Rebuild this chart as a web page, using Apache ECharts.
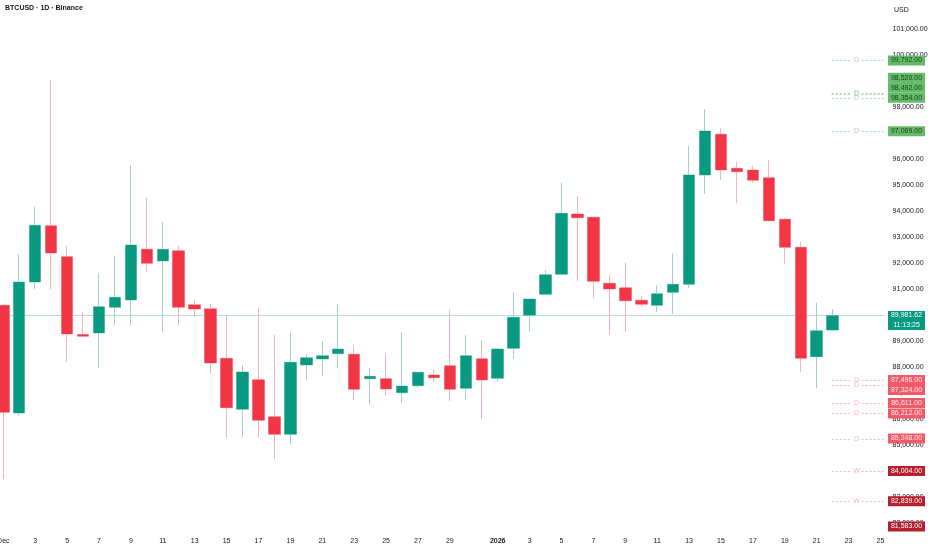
<!DOCTYPE html>
<html>
<head>
<meta charset="utf-8">
<script src="https://cdn.jsdelivr.net/npm/echarts@6/dist/echarts.min.js"></script>
<style>
html,body{margin:0;padding:0;background:#fff;}
#c{width:932px;height:550px;}
</style>
</head>
<body>
<div id="c"></div>
<script>
// ---------- DATA ----------
const categories = [
 '2025-12-01','2025-12-02','2025-12-03','2025-12-04','2025-12-05','2025-12-06','2025-12-07','2025-12-08','2025-12-09','2025-12-10',
 '2025-12-11','2025-12-12','2025-12-13','2025-12-14','2025-12-15','2025-12-16','2025-12-17','2025-12-18','2025-12-19','2025-12-20',
 '2025-12-21','2025-12-22','2025-12-23','2025-12-24','2025-12-25','2025-12-26','2025-12-27','2025-12-28','2025-12-29','2025-12-30',
 '2025-12-31','2026-01-01','2026-01-02','2026-01-03','2026-01-04','2026-01-05','2026-01-06','2026-01-07','2026-01-08','2026-01-09',
 '2026-01-10','2026-01-11','2026-01-12','2026-01-13','2026-01-14','2026-01-15','2026-01-16','2026-01-17','2026-01-18','2026-01-19',
 '2026-01-20','2026-01-21','2026-01-22','2026-01-23','2026-01-24','2026-01-25'
];
const tickLabels = [
 'Dec','','3','','5','','7','','9','','11','','13','','15','','17','','19','','21','','23','','25','','27','','29','','',
 '2026','','3','','5','','7','','9','','11','','13','','15','','17','','19','','21','','23','','25'
];
const opens  = [90373,86231,91269,93435,92242,89250,89308,90296,90577,92527,92077,92473,90396,90242,88335,86373,87512,86088,85412,88077,
 88308,88512,88488,87550,87550,87012,87281,87692,88050,87181,88319,87565,88719,89988,90796,91565,93885,93758,91219,91050,
 90565,90373,90873,91181,95385,96950,95642,95577,95281,93681,92604,88396,89423];
const closes = [86258,91269,93450,92385,89269,89180,90319,90681,92692,91988,92527,90296,90231,88154,86435,87808,85950,85412,88181,88358,
 88435,88692,87142,87642,87154,87269,87796,87588,87142,88435,87500,88692,89912,90615,91550,93912,93742,91296,91000,90550,
 90412,90819,91181,95385,97077,95577,95512,95181,93627,92604,88335,89396,89981.62];
const lows   = [83681,86127,91000,90990,88204,89160,87950,89615,89615,91665,89358,89615,89935,87758,85281,85296,85296,84450,85050,87488,
 87654,87950,86719,86538,86885,86627,87204,87435,86692,86758,85988,87435,88335,89358,90780,91550,91308,90654,89258,89358,
 90319,90127,90038,91027,94654,95192,94296,95088,93600,91973,87819,87181,89400];
const highs  = [90420,92335,94165,99038,92654,90127,91615,92269,95758,94512,93577,92665,90577,90412,90000,88065,90281,89231,89319,88500,
 89000,90396,88808,87950,88500,89335,87830,87912,90192,89231,89038,88720,90885,90650,91731,95088,94577,93770,91538,92012,
 90731,91142,92373,96500,97923,97181,95896,95742,95962,93700,92819,90473,90231];

const lastPrice = 89981.62;
const countdown = '11:13:25';

const levelPrices = [99792,98520,98492,98354,97069,87496,87324,86611,86212,85248,84004,82839,81583];
const levelTags   = ['D','D','D','D','D','D','D','D','D','D','W','W',''];
const levelKinds  = ['up','up','up','up','up','dn','dn','dn','dn','dn','wk','wk','wk'];

const yTicks = [82000,83000,84000,85000,86000,87000,88000,89000,90000,91000,92000,93000,94000,95000,96000,97000,98000,99000,100000,101000];
const yMin = 81654, yMax = 102115;

const titleText = 'BTCUSD · 1D · Binance';
const currencyText = 'USD';

// ---------- STYLE ----------
const UP = '#089981', DOWN = '#F23645';
const UP_WICK = '#9dd3c9', DOWN_WICK = '#f5b2b9';
const FONT = '"Liberation Sans", Arial, sans-serif';
const TXT = '#131722';
const levelStyle = {
  up: {bg:'#66bb6a', fg:'#133f17', line:'#a9d8ab'},
  dn: {bg:'#f15a68', fg:'#ffeef0', line:'#f6b6bd'},
  wk: {bg:'#b71f2e', fg:'#ffffff', line:'#f2b6bd'}
};

const fmt = v => Number(v).toLocaleString('en-US',{minimumFractionDigits:2, maximumFractionDigits:2});

const candles = opens.map((o,i)=>[o, closes[i], lows[i], highs[i]]);

const chart = echarts.init(document.getElementById('c'), null, {renderer:'canvas'});

chart.setOption({
  animation:false,
  backgroundColor:'#ffffff',
  title:{text:titleText, left:5, top:5, padding:0, textStyle:{fontSize:7, fontWeight:'bold', color:TXT, fontFamily:FONT}},
  grid:{left:3.3, right:51.5, top:0, bottom:18, containLabel:false, outerBoundsMode:'none'},
  xAxis:{
    type:'category', data:categories, boundaryGap:false,
    axisLine:{show:false}, axisTick:{show:false}, splitLine:{show:false},
    axisLabel:{
      interval:(i)=>tickLabels[i]!=='',
      formatter:(v,i)=>{const t=tickLabels[i]; return /^\d{4}$/.test(t)?'{b|'+t+'}':t;},
      fontSize:7, color:TXT, fontFamily:FONT, margin:6,
      rich:{b:{fontSize:7, fontWeight:'bold', color:TXT, fontFamily:FONT}}
    }
  },
  yAxis:{
    type:'value', position:'right', min:yMin, max:yMax, scale:true,
    splitLine:{show:false}, axisLine:{show:false}, axisTick:{show:false},
    axisLabel:{customValues:yTicks, formatter:v=>fmt(v), fontSize:7, color:TXT, fontFamily:FONT, margin:12, align:'left',
      showMinLabel:true, showMaxLabel:true}
  },
  series:[
    {
      type:'candlestick', data:candles, barWidth:12, clip:false, silent:true, z:2,
      itemStyle:{color:UP_WICK, color0:DOWN_WICK, borderColor:UP_WICK, borderColor0:DOWN_WICK, borderColorDoji:DOWN_WICK, borderWidth:1}
    },
    {
      type:'candlestick', data:candles, barWidth:12, clip:false, silent:true, z:3,
      itemStyle:{color:UP, color0:DOWN, borderColor:UP, borderColor0:DOWN, borderWidth:0}
    }
  ]
});

// ---------- right-side price labels & level markers ----------
const pxY = p => chart.convertToPixel({yAxisIndex:0}, p);
const pxX = c => chart.convertToPixel({xAxisIndex:0}, c);
const xS = pxX(categories[opens.length-1]);
const xR = pxX(categories[categories.length-1]);
const x0 = pxX(categories[0]);
const mid = (xS + xR) / 2;
const gridBottom = pxY(yMin);
const priceY = pxY(lastPrice);
const H = 10, BOXX = xR + 7.5, BOXW = 37;

const items = levelPrices.map((p,k)=>({p, k, y:pxY(p)}));
const above = items.filter(o=>o.y < priceY).sort((a,b)=>b.y-a.y);
const below = items.filter(o=>o.y >= priceY).sort((a,b)=>a.y-b.y);
let prev = Infinity;
above.forEach(o=>{ o.yd = Math.min(o.y, prev - H); prev = o.yd; });
prev = -Infinity;
below.forEach(o=>{ o.yd = Math.max(o.y, prev + H); prev = o.yd; });
below.forEach(o=>{ o.yd = Math.min(o.yd, gridBottom - H/2 - 0.5); });

const els = [];
// current price line (under candles is not needed; thin light line)
const py = Math.round(priceY) + 0.5;
els.push({type:'line', z:1, silent:true, shape:{x1:x0-4, y1:py, x2:xR+4, y2:py}, style:{stroke:'rgba(8,153,129,0.32)', lineWidth:1}});

items.forEach(o=>{
  const st = levelStyle[levelKinds[o.k]];
  const tag = levelTags[o.k];
  const y = Math.round(o.y) + 0.5;
  if (tag) {
    els.push({type:'line', z:90, silent:true, shape:{x1:xS-1, y1:y, x2:mid-5, y2:y}, style:{stroke:st.line, lineWidth:1, lineDash:[2,2]}});
    els.push({type:'line', z:90, silent:true, shape:{x1:mid+5, y1:y, x2:xR+4, y2:y}, style:{stroke:st.line, lineWidth:1, lineDash:[2,2]}});
    els.push({type:'text', z:91, silent:true, x:mid, y:y,
      style:{text:tag, fill:st.line, font:'7px '+FONT, align:'center', verticalAlign:'middle', textAlign:'center', textVerticalAlign:'middle'}});
  }
});
items.forEach(o=>{
  const st = levelStyle[levelKinds[o.k]];
  els.push({type:'rect', z:100, silent:true, shape:{x:BOXX, y:o.yd - H/2, width:BOXW, height:H}, style:{fill:st.bg}});
  els.push({type:'text', z:101, silent:true, x:BOXX + BOXW/2, y:o.yd,
    style:{text:fmt(levelPrices[o.k]), fill:st.fg, font:'7px '+FONT, align:'center', verticalAlign:'middle', textAlign:'center', textVerticalAlign:'middle'}});
});
// current price box
els.push({type:'rect', z:100, silent:true, shape:{x:BOXX, y:priceY - 4.5, width:BOXW, height:19}, style:{fill:UP}});
els.push({type:'text', z:101, silent:true, x:BOXX + BOXW/2, y:priceY,
  style:{text:fmt(lastPrice), fill:'#ffffff', font:'7px '+FONT, align:'center', verticalAlign:'middle', textAlign:'center', textVerticalAlign:'middle'}});
els.push({type:'text', z:101, silent:true, x:BOXX + BOXW/2, y:priceY + 9.5,
  style:{text:countdown, fill:'#ffffff', font:'7px '+FONT, align:'center', verticalAlign:'middle', textAlign:'center', textVerticalAlign:'middle'}});
// currency label
els.push({type:'text', z:101, silent:true, x:BOXX + 6, y:10,
  style:{text:currencyText, fill:TXT, font:'7px '+FONT, align:'left', verticalAlign:'middle', textAlign:'left', textVerticalAlign:'middle'}});

chart.setOption({graphic:{elements:els}});
</script>
</body>
</html>
